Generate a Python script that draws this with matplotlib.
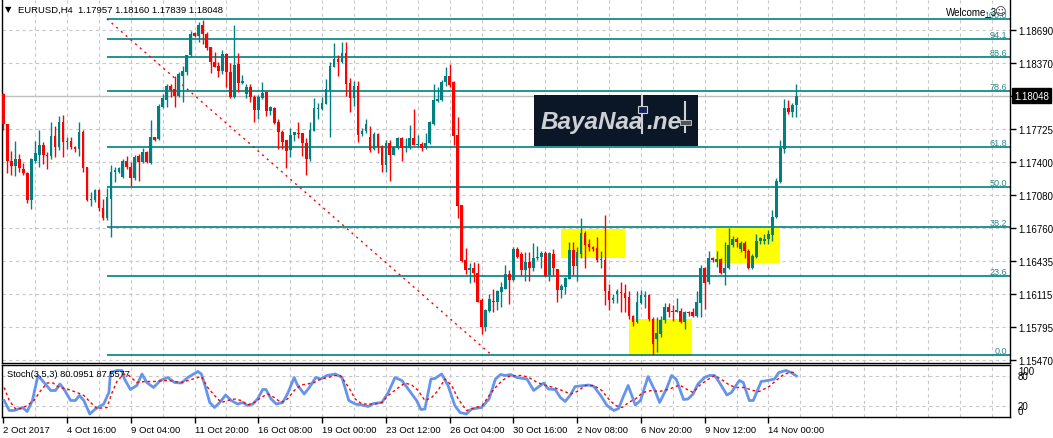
import matplotlib
matplotlib.use('Agg')
import matplotlib.pyplot as plt
import matplotlib.transforms as mtransforms
from matplotlib.patches import Rectangle
import numpy as np

# ---------------- data ----------------
opens = [1.1807,1.1777,1.1741,1.1736,1.1743,1.1733,1.1730,1.1703,1.1741,1.1747,
1.1757,1.1747,1.1746,1.1766,1.1755,1.1779,1.1760,1.1761,1.1755,1.1753,
1.1770,1.1735,1.1703,1.1703,1.1713,1.1695,1.1686,1.1704,1.1731,1.1731,
1.1726,1.1741,1.1735,1.1725,1.1746,1.1740,1.1750,1.1739,1.1765,1.1763,
1.1794,1.1801,1.1814,1.1812,1.1805,1.1824,1.1828,1.1845,1.1866,1.1863,
1.1874,1.1865,1.1853,1.1838,1.1834,1.1829,1.1846,1.1828,1.1804,1.1836,
1.1817,1.1807,1.1813,1.1804,1.1791,1.1803,1.1809,1.1790,1.1793,1.1779,
1.1770,1.1762,1.1752,1.1767,1.1769,1.1769,1.1759,1.1743,1.1771,1.1792,
1.1792,1.1797,1.1811,1.1833,1.1841,1.1838,1.1847,1.1817,1.1803,1.1814,
1.1768,1.1771,1.1765,1.1753,1.1768,1.1756,1.1737,1.1759,1.1747,1.1754,
1.1764,1.1754,1.1754,1.1764,1.1757,1.1758,1.1754,1.1759,1.1777,1.1800,
1.1801,1.1818,1.1824,1.1818,1.1767,1.1698,1.1645,1.1635,1.1637,1.1632,
1.1606,1.1579,1.1595,1.1605,1.1604,1.1613,1.1616,1.1631,1.1625,1.1655,
1.1650,1.1635,1.1643,1.1637,1.1647,1.1648,1.1651,1.1630,1.1650,1.1636,
1.1615,1.1618,1.1626,1.1654,1.1639,1.1650,1.1671,1.1660,1.1657,1.1656,
1.1645,1.1645,1.1614,1.1606,1.1611,1.1613,1.1612,1.1609,1.1590,1.1584,
1.1603,1.1609,1.1610,1.1587,1.1568,1.1572,1.1586,1.1599,1.1595,1.1594,
1.1595,1.1584,1.1594,1.1594,1.1590,1.1603,1.1637,1.1623,1.1647,1.1643,
1.1646,1.1632,1.1637,1.1659,1.1665,1.1655,1.1661,1.1653,1.1637,1.1648,
1.1663,1.1663,1.1665,1.1669,1.1687,1.1721,1.1753,1.1793,1.1789,1.17957]
highs = [1.1808,1.1777,1.1751,1.1761,1.1748,1.1739,1.1731,1.1744,1.1761,1.1772,
1.1760,1.1750,1.1779,1.1775,1.1785,1.1786,1.1765,1.1765,1.1756,1.1779,
1.1772,1.1735,1.1711,1.1714,1.1714,1.1704,1.1715,1.1737,1.1735,1.1735,
1.1743,1.1746,1.1740,1.1747,1.1748,1.1754,1.1751,1.1781,1.1765,1.1797,
1.1807,1.1816,1.1816,1.1824,1.1828,1.1834,1.1845,1.1868,1.1867,1.1877,
1.1879,1.1867,1.1853,1.1848,1.1838,1.1850,1.1847,1.1837,1.1874,1.1847,
1.1825,1.1816,1.1816,1.1806,1.1806,1.1818,1.1810,1.1795,1.1794,1.1782,
1.1772,1.1762,1.1773,1.1770,1.1779,1.1769,1.1764,1.1779,1.1803,1.1798,
1.1804,1.1821,1.1838,1.1856,1.1845,1.1857,1.1857,1.1822,1.1819,1.1819,
1.1773,1.1782,1.1775,1.1770,1.1769,1.1757,1.1762,1.1762,1.1756,1.1765,
1.1765,1.1764,1.1776,1.1792,1.1767,1.1760,1.1769,1.1780,1.1816,1.1813,
1.1820,1.1833,1.1836,1.1819,1.1784,1.1698,1.1656,1.1642,1.1643,1.1642,
1.1608,1.1597,1.1611,1.1616,1.1615,1.1623,1.1640,1.1635,1.1657,1.1657,
1.1652,1.1652,1.1652,1.1661,1.1658,1.1653,1.1653,1.1652,1.1655,1.1636,
1.1621,1.1628,1.1662,1.1662,1.1657,1.1686,1.1673,1.1665,1.1658,1.1667,
1.1653,1.1689,1.1621,1.1611,1.1616,1.1623,1.1621,1.1614,1.1591,1.1614,
1.1615,1.1614,1.1611,1.1589,1.1589,1.1590,1.1603,1.1603,1.1601,1.1608,
1.1598,1.1595,1.1595,1.1598,1.1614,1.1640,1.1638,1.1653,1.1648,1.1653,
1.1647,1.1662,1.1676,1.1668,1.1667,1.1663,1.1663,1.1655,1.1650,1.1670,
1.1667,1.1670,1.1674,1.1693,1.1725,1.1762,1.1802,1.1801,1.1798,1.18160]
lows = [1.1772,1.1730,1.1728,1.1727,1.1731,1.1728,1.1700,1.1694,1.1739,1.1735,
1.1738,1.1733,1.1743,1.1745,1.1752,1.1745,1.1753,1.1753,1.1750,1.1746,
1.1731,1.1702,1.1697,1.1701,1.1692,1.1684,1.1684,1.1667,1.1721,1.1730,
1.1725,1.1733,1.1717,1.1723,1.1722,1.1739,1.1739,1.1738,1.1761,1.1762,
1.1793,1.1794,1.1804,1.1794,1.1804,1.1799,1.1825,1.1843,1.1862,1.1857,
1.1855,1.1850,1.1827,1.1833,1.1823,1.1826,1.1813,1.1803,1.1803,1.1809,
1.1816,1.1803,1.1799,1.1779,1.1782,1.1802,1.1785,1.1786,1.1777,1.1753,
1.1753,1.1734,1.1745,1.1761,1.1764,1.1746,1.1728,1.1741,1.1771,1.1782,
1.1791,1.1797,1.1765,1.1833,1.1824,1.1837,1.1805,1.1789,1.1795,1.1760,
1.1766,1.1769,1.1750,1.1752,1.1749,1.1731,1.1731,1.1722,1.1747,1.1753,
1.1741,1.1750,1.1753,1.1757,1.1756,1.1751,1.1753,1.1758,1.1776,1.1799,
1.1800,1.1814,1.1813,1.1757,1.1686,1.1643,1.1631,1.1622,1.1623,1.1604,
1.1572,1.1575,1.1594,1.1594,1.1596,1.1599,1.1616,1.1602,1.1624,1.1647,
1.1630,1.1624,1.1624,1.1634,1.1645,1.1637,1.1628,1.1624,1.1630,1.1604,
1.1608,1.1611,1.1626,1.1630,1.1624,1.1647,1.1637,1.1653,1.1653,1.1643,
1.1637,1.1601,1.1596,1.1603,1.1603,1.1594,1.1594,1.1587,1.1580,1.1583,
1.1602,1.1598,1.1585,1.1552,1.1555,1.1569,1.1583,1.1589,1.1585,1.1594,
1.1583,1.1577,1.1590,1.1589,1.1589,1.1589,1.1597,1.1621,1.1643,1.1638,
1.1631,1.1620,1.1636,1.1657,1.1657,1.1652,1.1647,1.1636,1.1636,1.1647,
1.1660,1.1660,1.1660,1.1663,1.1686,1.1720,1.1749,1.1787,1.1784,1.17839]
closes = [1.1777,1.1741,1.1736,1.1743,1.1734,1.1730,1.1703,1.1743,1.1749,1.1757,
1.1747,1.1746,1.1766,1.1755,1.1779,1.1760,1.1761,1.1755,1.1753,1.1770,
1.1734,1.1703,1.1704,1.1713,1.1695,1.1686,1.1706,1.1731,1.1732,1.1734,
1.1741,1.1735,1.1725,1.1745,1.1740,1.1750,1.1740,1.1765,1.1762,1.1795,
1.1803,1.1814,1.1811,1.1805,1.1826,1.1829,1.1845,1.1865,1.1863,1.1874,
1.1865,1.1852,1.1838,1.1833,1.1829,1.1846,1.1828,1.1804,1.1835,1.1817,
1.1819,1.1813,1.1804,1.1791,1.1804,1.1808,1.1790,1.1794,1.1778,1.1770,
1.1760,1.1751,1.1767,1.1770,1.1768,1.1759,1.1743,1.1772,1.1793,1.1793,
1.1798,1.1812,1.1834,1.1841,1.1838,1.1847,1.1816,1.1803,1.1814,1.1767,
1.1771,1.1777,1.1752,1.1768,1.1755,1.1737,1.1759,1.1747,1.1755,1.1764,
1.1754,1.1756,1.1764,1.1757,1.1758,1.1754,1.1759,1.1779,1.1801,1.1802,
1.1818,1.1824,1.1815,1.1766,1.1697,1.1644,1.1635,1.1637,1.1632,1.1604,
1.1579,1.1596,1.1607,1.1604,1.1614,1.1618,1.1631,1.1625,1.1655,1.1648,
1.1635,1.1643,1.1637,1.1647,1.1648,1.1651,1.1629,1.1651,1.1637,1.1615,
1.1619,1.1627,1.1654,1.1639,1.1652,1.1671,1.1659,1.1657,1.1655,1.1645,
1.1646,1.1614,1.1606,1.1608,1.1614,1.1612,1.1608,1.1590,1.1584,1.1604,
1.1610,1.1610,1.1587,1.1563,1.1573,1.1586,1.1599,1.1594,1.1594,1.1596,
1.1584,1.1594,1.1593,1.1590,1.1604,1.1637,1.1622,1.1647,1.1645,1.1646,
1.1632,1.1637,1.1659,1.1665,1.1662,1.1661,1.1653,1.1637,1.1649,1.1663,
1.1666,1.1665,1.1670,1.1687,1.1722,1.1754,1.1793,1.1789,1.1796,1.18048]

stoch_main_x = [0.2,1.5,2.7,4.8,6.0,7.3,8.7,9.8,11.9,13.1,14.2,15.2,16.9,18.1,19.1,20.2,21.7,23.1,25.2,26.5,
26.9,28.5,29.8,30.4,31.9,33.5,34.8,36.0,37.7,39.4,41.3,43.0,44.7,46.3,48.8,49.7,50.5,51.8,53.0,54.3,
55.8,57.2,58.8,60.1,61.3,62.6,63.8,65.1,65.9,67.2,68.5,70.1,71.3,73.0,73.8,75.5,76.8,78.4,79.7,81.2,
83.3,85.0,86.7,88.3,90.0,91.6,92.9,95.0,96.6,98.3,100.0,101.6,103.7,104.8,105.8,107.3,108.3,110.0,111.6,113.3,
114.6,116.2,117.5,120.0,121.9,123.5,124.8,126.0,127.3,128.9,131.4,133.1,135.6,136.8,138.5,139.8,141.0,142.3,143.5,146.9,
148.2,149.9,151.5,153.2,154.4,155.7,156.8,158.6,159.9,161.8,163.5,164.7,166.4,167.7,168.9,170.7,171.8,173.1,174.3,176.0,
177.2,178.5,179.7,181.6,182.7,184.7,185.7,187.2,188.2,190.2,191.8,193.5,194.6,196.4,197.7,199.0]
stoch_main = [31,11,11,17,9,31,81,71,51,51,64,54,31,31,41,31,4,14,24,47,
87,91,91,74,53,61,84,67,57,71,77,67,66,77,89,84,64,27,17,27,
42,31,24,27,21,24,34,53,53,34,24,27,44,77,62,44,57,77,74,81,
84,77,31,24,22,19,25,27,47,77,71,54,31,13,14,74,75,84,61,21,
7,4,14,17,34,74,83,81,83,77,74,51,66,54,53,37,29,42,59,62,
59,41,21,11,15,41,61,22,31,79,51,27,54,81,73,33,34,44,64,77,
81,81,67,42,47,71,67,31,31,69,71,74,87,91,87,80.1]
stoch_signal_x = [0.2,1.5,3.1,4.4,6.0,7.7,9.4,11.0,12.5,14.0,16.0,18.5,20.2,21.9,23.5,26.0,27.3,28.5,30.2,31.5,
33.5,35.6,37.7,41.3,43.0,44.7,47.6,49.7,51.3,53.0,54.7,56.3,58.0,59.7,61.3,63.0,64.7,66.3,68.0,69.7,
71.3,73.0,74.7,76.3,78.0,79.7,81.5,83.3,84.6,86.7,88.3,90.0,91.6,93.3,95.0,96.6,98.7,100.8,102.5,104.1,
105.8,107.5,109.1,110.8,112.5,114.1,116.2,117.9,120.2,121.9,123.5,125.2,126.8,128.9,130.2,131.9,134.0,136.1,138.2,140.2,
142.4,144.0,146.1,148.2,150.2,151.9,153.6,155.3,156.9,158.6,160.5,162.6,164.7,167.2,169.7,171.4,173.1,174.7,176.4,178.5,
180.6,182.2,183.9,186.0,188.1,189.7,192.2,193.9,196.0,197.7,199.0]
stoch_signal = [57,31,14,15,21,31,51,66,66,57,54,47,41,27,15,17,47,69,84,81,
67,69,69,71,69,67,74,79,57,41,27,31,34,31,22,27,37,44,37,27,
34,51,62,64,67,74,77,81,81,57,34,24,24,24,27,41,54,66,62,51,
31,37,51,74,61,35,11,15,21,41,57,71,79,81,81,77,67,61,57,51,
44,49,61,61,51,34,21,17,27,34,47,51,49,54,62,54,47,61,71,81,
71,62,57,57,51,49,59,71,84,87,87.6]

price_ticks = [1.15470, 1.15795, 1.16115, 1.16435, 1.16760, 1.17080, 1.17400, 1.17725, 1.18050, 1.18370, 1.18690]
price_tick_labels = ['1.15470', '1.15795', '1.16115', '1.16435', '1.16760', '1.17080', '1.17400', '1.17725', '', '1.18370', '1.18690']
date_labels = ['2 Oct 2017', '4 Oct 16:00', '9 Oct 04:00', '11 Oct 20:00', '16 Oct 08:00', '19 Oct 00:00',
               '23 Oct 12:00', '26 Oct 04:00', '30 Oct 16:00', '2 Nov 08:00', '6 Nov 20:00', '9 Nov 12:00', '14 Nov 00:00']
date_bars = [0, 16, 32, 48, 64, 80, 96, 112, 128, 144, 160, 176, 192]

fib_levels = [0.0, 23.6, 38.2, 50.0, 61.8, 78.6, 88.6, 94.1, 100.0]
fib_low, fib_high = 1.1552, 1.1880
fib_bar_high, fib_bar_low = 26.0, 122.5

zones = [(139.9, 155.9, 1.16465, 1.16748), (156.9, 172.9, 1.15509, 1.15870), (178.9, 194.9, 1.16417, 1.16758)]
last_price = 1.18048

# ---------------- figure ----------------
W, H = 1053, 439
fig = plt.figure(figsize=(W / 100, H / 100), dpi=100)
fig.patch.set_facecolor('white')
FONT = ['Liberation Sans', 'DejaVu Sans']
TEAL = '#008080'
RED = '#ff0000'
GRID = '#c8c8c8'

def rect(x0, y0, x1, y1):
    return [x0 / W, 1 - y1 / H, (x1 - x0) / W, (y1 - y0) / H]

px = mtransforms.Affine2D().scale(1 / W, -1 / H).translate(0, 1) + fig.transFigure

ax = fig.add_axes(rect(2, 1, 1010, 364))
ax2 = fig.add_axes(rect(2, 366, 1010, 418))

spacing = 3.985
x_left = (2 - 3.3) / spacing
x_right = x_left + 1008 / spacing
for a in (ax, ax2):
    a.set_xlim(x_left, x_right)
    a.set_facecolor('white')
    for s in a.spines.values():
        s.set_color('black')
        s.set_linewidth(1)

ax.set_ylim(1.15441, 1.18984)
ax2.set_ylim(-2, 102)
ax.spines['top'].set_visible(False)

dash = (0, (3, 3))
for p in price_ticks:
    ax.axhline(p, color=GRID, lw=0.8, ls=dash, zorder=0)
for b in range(8, int(x_right) + 1, 8):
    ax.axvline(b, color=GRID, lw=0.8, ls=dash, zorder=0)
    ax2.axvline(b, color=GRID, lw=0.8, ls=dash, zorder=0)
for lv in (20, 80):
    ax2.axhline(lv, color=GRID, lw=0.8, ls=dash, zorder=0)

# yellow zones
for b0, b1, p0, p1 in zones:
    ax.add_patch(Rectangle((b0, p0), b1 - b0, p1 - p0, facecolor='#ffff00', edgecolor='none', zorder=0.5))

# current price line
ax.axhline(last_price, color='#c0c0c0', lw=1, zorder=1)

# fibonacci
for lv in fib_levels:
    p = fib_low + (fib_high - fib_low) * lv / 100.0
    ax.hlines(p, fib_bar_high, x_right, color=TEAL, lw=1.2, zorder=2)
    ax.text(0.997, p, f'{lv:.1f}', transform=mtransforms.blended_transform_factory(ax.transAxes, ax.transData),
            ha='right', va='bottom', fontsize=6.5, color='#2a8a8a', family=FONT, zorder=3)
ax.plot([fib_bar_high, fib_bar_low], [fib_high, fib_low], color=RED, lw=1, ls=(0, (1.5, 3)), zorder=2)

# candles
o = np.array(opens); h = np.array(highs); l = np.array(lows); c = np.array(closes)
xs = np.arange(len(o))
cols = np.where(c >= o, TEAL, RED)
ax.vlines(xs, l, h, colors=cols, lw=1, zorder=4)
body_h = np.maximum(np.abs(c - o), 0.00009)
ax.bar(xs, body_h, bottom=np.minimum(o, c), width=0.68, color=cols, edgecolor='none', zorder=5)

# axes ticks
ax.yaxis.tick_right()
ax.set_yticks(price_ticks)
ax.set_yticklabels(price_tick_labels)
ax.tick_params(axis='y', length=4, width=1, pad=2, labelsize=7, colors='black')
ax.tick_params(axis='x', bottom=False, labelbottom=False)
for t in ax.get_yticklabels():
    t.set_family(FONT)

# price box
off = mtransforms.offset_copy(mtransforms.blended_transform_factory(ax.transAxes, ax.transData), fig=fig, x=4, y=0, units='dots')
ax.text(1.0, last_price, '1.18048', transform=off, ha='left', va='center', fontsize=7, color='white', family=FONT,
        bbox=dict(boxstyle='square,pad=0.25', facecolor='black', edgecolor='black'), clip_on=False, zorder=10)

# stochastic
ax2.plot(stoch_main_x, stoch_main, color='#6495ed', lw=2, zorder=3, solid_joinstyle='round')
ax2.plot(stoch_signal_x, stoch_signal, color=RED, lw=1, ls=(0, (2, 2)), zorder=4)
ax2.set_yticks([])
ax2.set_xticks(date_bars)
ax2.set_xticklabels(date_labels)
ax2.tick_params(axis='x', length=4, width=1, pad=1.5, labelsize=6.8, colors='black')
for t in ax2.get_xticklabels():
    t.set_ha('left')
    t.set_family(FONT)
btr = mtransforms.blended_transform_factory(ax2.transAxes, ax2.transData)
btr = mtransforms.offset_copy(btr, fig=fig, x=8, y=0, units='dots')
ax2.text(1.0, 100, '100', transform=btr, ha='left', va='top', fontsize=7, family=FONT, clip_on=False)
ax2.text(1.0, 80, '80', transform=btr, ha='left', va='center', fontsize=7, family=FONT, clip_on=False)
ax2.text(1.0, 20, '20', transform=btr, ha='left', va='center', fontsize=7, family=FONT, clip_on=False)
ax2.text(1.0, 0, '0', transform=btr, ha='left', va='bottom', fontsize=7, family=FONT, clip_on=False)
fig.text(7, 375, 'Stoch(3,5,3) 80.0951 87.5577', transform=px, ha='left', va='center', fontsize=6.7, family=FONT)

# header texts
fig.text(8, 10, '\u25bc', transform=px, ha='center', va='center', fontsize=6, family=['DejaVu Sans'])
fig.text(18, 10, 'EURUSD,H4  1.17957 1.18160 1.17839 1.18048', transform=px, ha='left', va='center', fontsize=6.8, family=FONT)
fig.text(946, 12, 'Welcome_3', transform=px, ha='left', va='center', fontsize=7, family=FONT)
fig.text(1000, 12, '\u263a', transform=px, ha='center', va='center', fontsize=8, family=['DejaVu Sans'], color='#333333')

# logo
fig.patches.append(Rectangle((534, 147), 164, -51, transform=px, facecolor='#0b1727', edgecolor='none', zorder=6))
logo_font = ['Liberation Sans', 'DejaVu Sans']
fig.text(541, 123, 'BayaNaa', transform=px, ha='left', va='center', fontsize=17.5, fontweight='bold', fontstyle='italic',
         color='#cdd1d4', family=logo_font, zorder=7)
fig.text(646, 123, '.ne', transform=px, ha='left', va='center', fontsize=17.5, fontweight='bold', fontstyle='italic',
         color='#cdd1d4', family=logo_font, zorder=7)
fig.lines.append(plt.Line2D([642, 642], [97, 134], transform=px, color='#cdd1d4', lw=1.5, zorder=7))
fig.patches.append(Rectangle((638, 107), 9, 7, transform=px, facecolor='#15205a', edgecolor='#cdd1d4', lw=0.8, zorder=8))
fig.lines.append(plt.Line2D([685, 685], [103, 133], transform=px, color='#cdd1d4', lw=1.5, zorder=7))
fig.patches.append(Rectangle((680, 121), 11, 5, transform=px, facecolor='#555555', edgecolor='#cdd1d4', lw=0.6, zorder=8))

fig.savefig('out.png', dpi=100)
